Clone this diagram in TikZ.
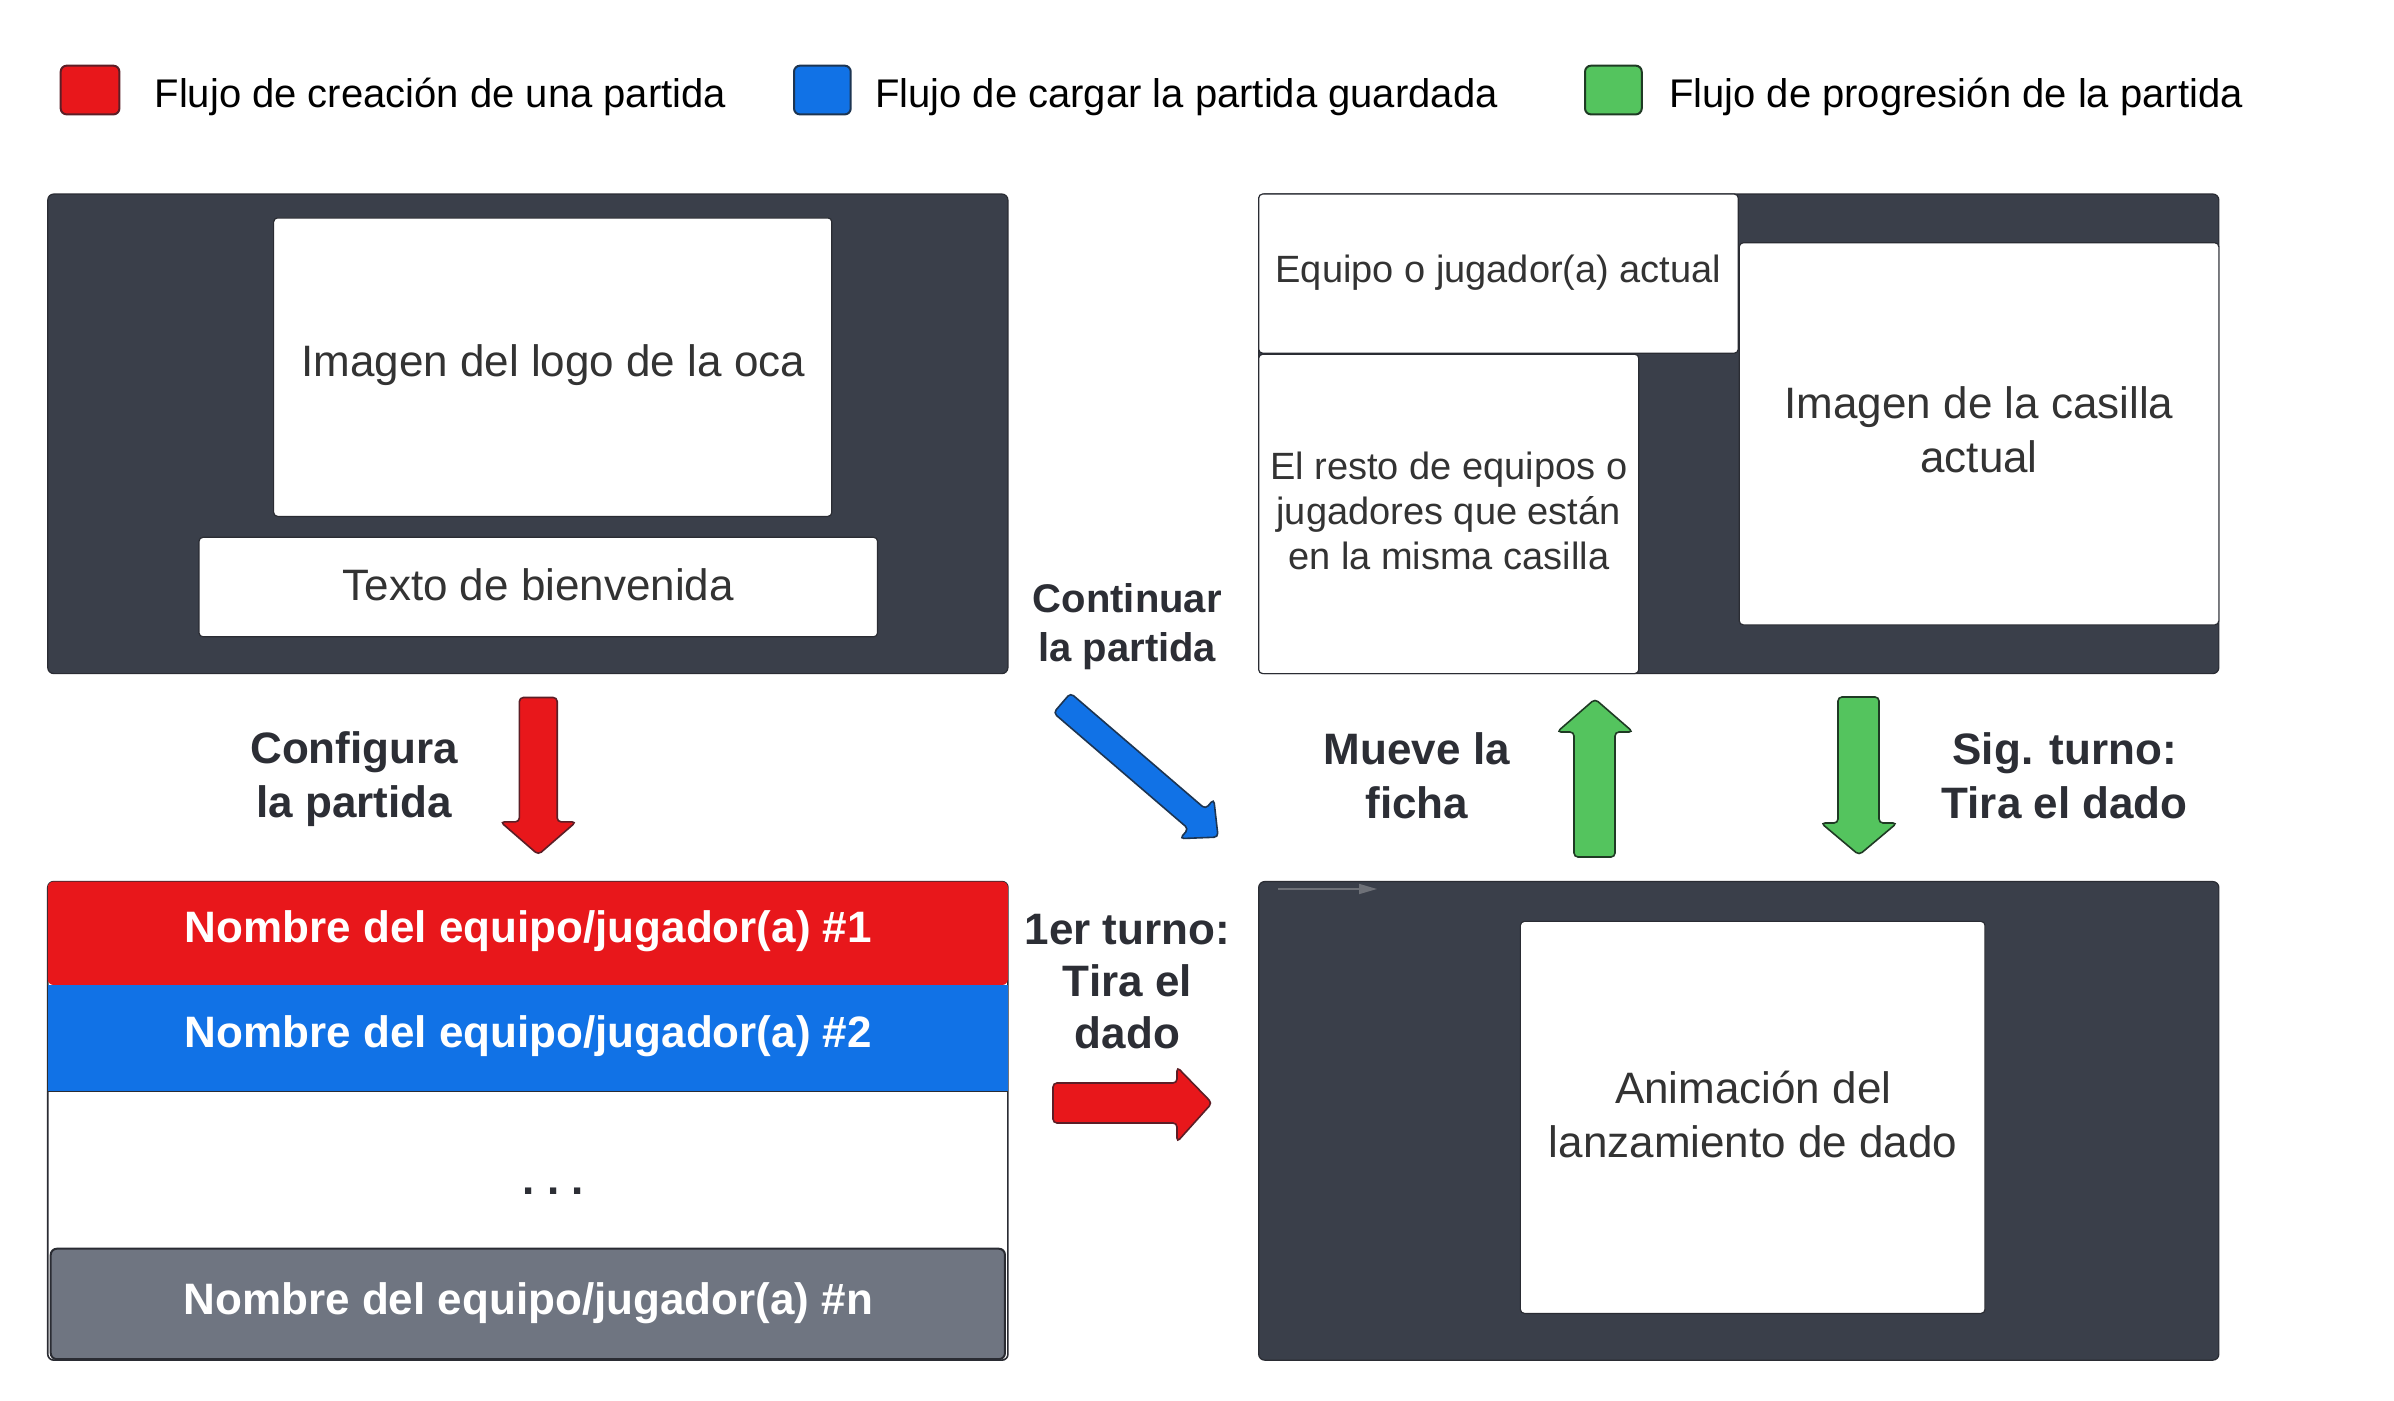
\documentclass[tikz,border=0pt]{standalone}
\usepackage{fontspec}
\setmainfont{Liberation Sans}
\usetikzlibrary{arrows.meta}
\definecolor{panel}{HTML}{3A3F4A}
\definecolor{edge}{HTML}{2A2C33}
\definecolor{fred}{HTML}{E8171B}
\definecolor{fblue}{HTML}{1172E6}
\definecolor{fgreen}{HTML}{54C45E}
\definecolor{fgray}{HTML}{6F7581}
\definecolor{txt}{HTML}{333333}
\definecolor{lbl}{HTML}{2C2E35}
\definecolor{redge}{HTML}{5C1E26}
\definecolor{bedge}{HTML}{1D3552}
\definecolor{gedge}{HTML}{1F3A24}
\definecolor{smallarr}{HTML}{6E7178}
\tikzset{
  panelbox/.style={fill=panel, draw=edge, line width=0.6pt, rounded corners=3pt},
  whitebox/.style={fill=white, draw=edge, line width=0.6pt, rounded corners=2pt},
  maintext/.style={font=\fontsize{22}{27}\selectfont, text=txt, align=center, inner sep=0pt},
  smalltext/.style={font=\fontsize{19}{22.5}\selectfont, text=txt, align=center, inner sep=0pt},
  labtext/.style={font=\fontsize{22}{27}\selectfont\bfseries, text=lbl, align=center, inner sep=0pt},
  bartext/.style={font=\fontsize{22}{27}\selectfont\bfseries, text=white, inner sep=0pt},
  legtext/.style={font=\fontsize{20}{24}\selectfont, text=black, anchor=base west, inner sep=0pt},
  legsq/.style={line width=1pt, rounded corners=3pt},
  redarrow/.style={fill=fred, draw=redge, line width=0.8pt, rounded corners=2pt},
  bluearrow/.style={fill=fblue, draw=bedge, line width=0.8pt, rounded corners=2pt},
  greenarrow/.style={fill=fgreen, draw=gedge, line width=0.8pt, rounded corners=2pt},
}
\begin{document}
\begin{tikzpicture}[x=0.5pt,y=-0.5pt]
\useasboundingbox[fill=white] (0,0) rectangle (2394,1401);
\begin{scope}[scale=0.995]
% legend
\draw[legsq, fill=fred, draw=redge] (61,66) rectangle (120,115);
\node[legtext] (l1) at (155,108) {Flujo de creación de una partida};
\draw[legsq, fill=fblue, draw=bedge] (798,66) rectangle (855,115);
\node[legtext] (l2) at (879,108) {Flujo de cargar la partida guardada};
\draw[legsq, fill=fgreen, draw=gedge] (1593,66) rectangle (1650,115);
\node[legtext] (l3) at (1677,108) {Flujo de progresión de la partida};

% top-left panel
\draw[panelbox] (48,195) rectangle (1013,677);
\draw[whitebox] (275,219) rectangle (836,519);
\node[maintext] (logo) at (556,367) {Imagen del logo de la oca};
\draw[whitebox] (200,540) rectangle (882,640);
\node[maintext] (bienv) at (541,588) {Texto de bienvenida};

% red down arrow
\draw[redarrow] (522,701) -- (560,701) -- (560,826) -- (579,826) -- (541,859) -- (503,826) -- (522,826) -- cycle;
\node[labtext] (config) at (356,783) {Configura\\la partida};

% bottom-left list
\draw[fill=white, draw=edge, line width=0.8pt, rounded corners=3pt] (48,886) rectangle (1013,1367);
\fill[fred, rounded corners=3pt] (48,990) -- (48,886) -- (1013,886) -- (1013,990) -- cycle;
\fill[fblue] (48,990) rectangle (1013,1097);
\draw[edge, line width=0.6pt] (48,1097) -- (1013,1097);
\node[bartext] (p1) at (531,936) {Nombre del equipo/jugador(a) \#1};
\node[bartext] (p2) at (531,1041) {Nombre del equipo/jugador(a) \#2};
\node[font=\fontsize{22}{27}\selectfont\bfseries, text=lbl, anchor=base, inner sep=0pt] (dots) at (556,1201) {.\ .\ .};
\draw[fill=fgray, draw=edge, line width=1pt, rounded corners=3pt] (51,1255) rectangle (1010,1366);
\node[bartext] (pn) at (531,1310) {Nombre del equipo/jugador(a) \#n};

% middle labels
\node[labtext, font=\fontsize{20}{24.5}\selectfont\bfseries] (cont) at (1133,630) {Continuar\\la partida};
\node[labtext, font=\fontsize{22}{26}\selectfont\bfseries] (turno1) at (1133,987) {1er turno:\\Tira el\\dado};

% top-right panel
\draw[panelbox] (1265,195) rectangle (2230,677);
\draw[whitebox] (1265,195) rectangle (1747,355);
\node[smalltext] (actual) at (1506,274) {Equipo o jugador(a) actual};
\draw[whitebox] (1265,356) rectangle (1647,677);
\node[smalltext] (resto) at (1456,513) {El resto de equipos o\\jugadores que están\\en la misma casilla};
\draw[whitebox] (1748,244) rectangle (2230,628);
\node[maintext] (casilla) at (1989,432) {Imagen de la casilla\\actual};

\node[labtext] (mueve) at (1424,780) {Mueve la\\ficha};
\node[labtext] (sig) at (2075,780) {Sig. turno:\\Tira el dado};

% bottom-right panel
\draw[panelbox] (1265,886) rectangle (2230,1367);
\draw[whitebox] (1528,926) rectangle (1995,1320);
\node[maintext] (anim) at (1762,1120) {Animación del\\lanzamiento de dado};
\end{scope}

% arrows measured in image pixels
\draw[bluearrow] (1053.5,712.9) -- (1070.5,693.1) -- (1205.4,809.0) -- (1213.8,799.2) -- (1218.1,837.1) -- (1180.0,838.6) -- (1188.4,828.8) -- cycle;
\draw[redarrow] (1053,1083) -- (1177,1083) -- (1177,1067) -- (1212,1103) -- (1177,1142) -- (1177,1123) -- (1053,1123) -- cycle;
\draw[greenarrow] (1574,857) -- (1574,732) -- (1557,732) -- (1595,699) -- (1633,732) -- (1615,732) -- (1615,857) -- cycle;
\draw[greenarrow] (1838,697) -- (1879,697) -- (1879,823) -- (1897,823) -- (1859,855) -- (1821,823) -- (1838,823) -- cycle;
\coordinate (sa1) at (1278,889);
\coordinate (sa2) at (1377,889);
\draw[smallarr, line width=0.8pt, -{Triangle[length=9pt,width=5pt]}] (sa1) -- (sa2);
\end{tikzpicture}
\end{document}
